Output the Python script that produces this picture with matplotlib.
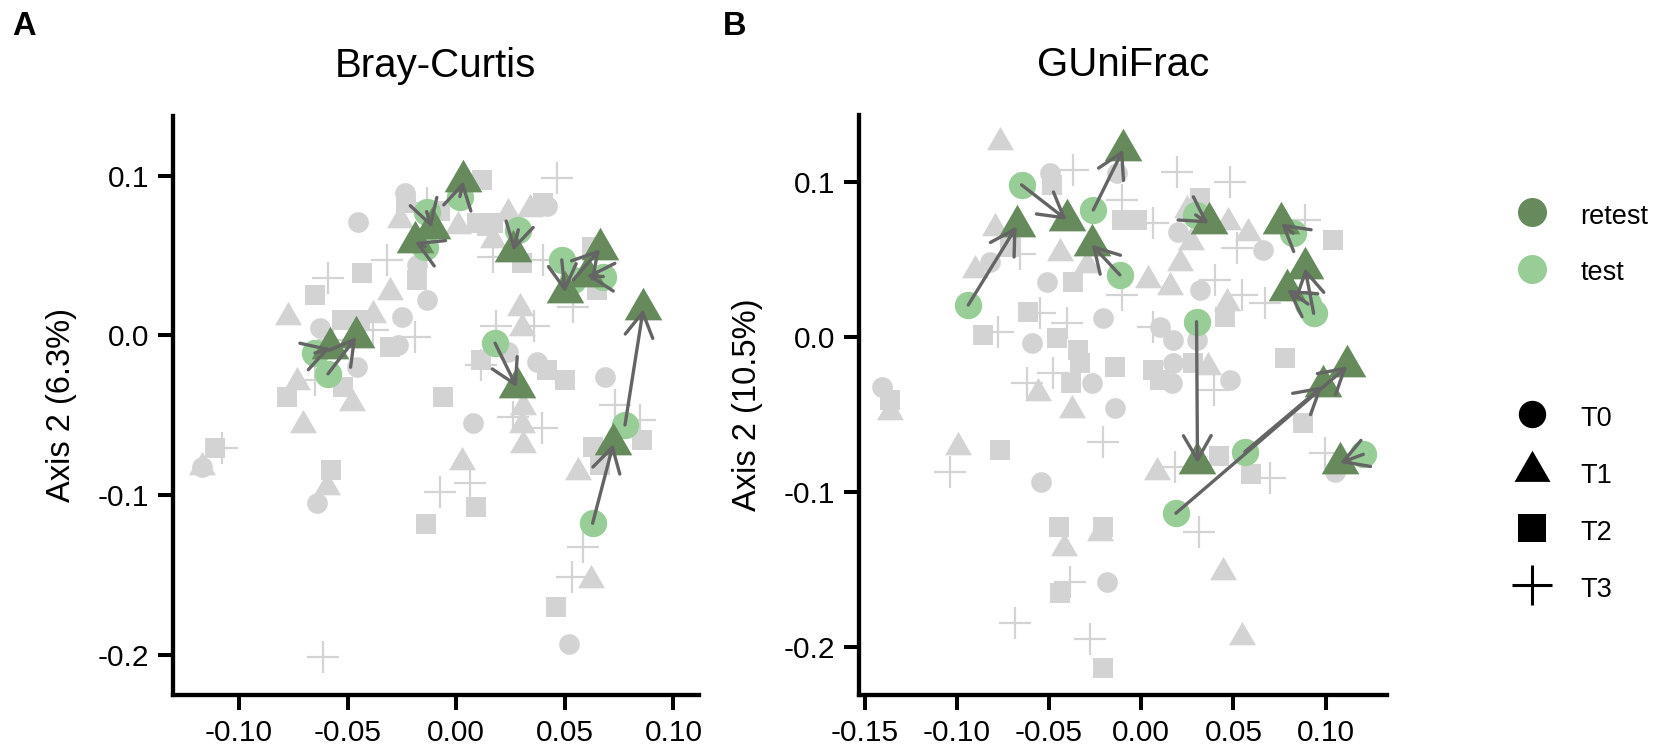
import matplotlib
matplotlib.use("Agg")
import matplotlib.pyplot as plt
from matplotlib.lines import Line2D

plt.rcParams['font.family'] = ['Liberation Sans', 'DejaVu Sans']
plt.rcParams['axes.unicode_minus'] = False

# ---------------- data ----------------
# Bray-Curtis, background samples (grey), by time point
bc_t0 = [(-0.0236, 0.0891), (-0.0451, 0.0714), (0.0417, 0.0808), (-0.0182, 0.0442),
         (-0.0136, 0.0223), (-0.0627, 0.0046), (-0.0251, 0.0118), (-0.0267, -0.006),
         (-0.0458, -0.0195), (0.024, -0.0101), (0.0371, -0.0163), (0.0685, -0.0261),
         (-0.1172, -0.0821), (-0.0642, -0.1051), (0.0079, -0.055), (0.0521, -0.1934)]
bc_t1 = [(-0.0258, 0.0724), (0.001, 0.0683), (0.024, 0.0766), (0.0171, 0.0599),
         (0.0339, 0.079), (-0.0305, 0.0275), (-0.0773, 0.0118), (-0.0382, 0.0129),
         (-0.0734, -0.0289), (-0.0481, -0.0424), (0.0294, 0.0171), (0.0302, 0.0046),
         (-0.0704, -0.056), (-0.1172, -0.0821), (-0.0596, -0.0947), (0.0025, -0.079),
         (0.0309, -0.0445), (0.0302, -0.056), (0.0309, -0.0685), (0.0562, -0.0853),
         (0.0619, -0.1531)]
bc_t2 = [(0.0117, 0.0975), (-0.0232, 0.0829), (-0.0075, 0.0777), (0.0094, 0.0704),
         (0.014, 0.0683), (0.0171, 0.0704), (0.0401, 0.0829), (0.0302, 0.0453),
         (0.0647, 0.0286), (0.0623, 0.0557), (-0.0182, 0.0348), (-0.0435, 0.039),
         (-0.065, 0.0254), (-0.0527, 0.0098), (-0.0443, 0.0098), (-0.0305, -0.007),
         (-0.078, -0.0383), (-0.052, -0.032), (-0.0059, -0.0383), (0.0113, -0.0153),
         (0.0417, -0.0216), (0.0501, -0.0278), (-0.111, -0.0706), (-0.0578, -0.0842),
         (0.0091, -0.1072), (-0.0139, -0.118), (0.0854, -0.0654), (0.0628, -0.0696),
         (0.0662, -0.0811), (0.0458, -0.1699)]
bc_t3 = [(0.0463, 0.0985), (-0.0136, 0.0829), (0.0401, 0.0474), (0.0171, 0.0494),
         (-0.032, 0.0474), (-0.0589, 0.0359), (0.0539, 0.0181), (-0.019, -0.0007),
         (-0.0382, 0.0035), (-0.0565, -0.0028), (-0.0649, -0.0278), (0.0356, 0.0057),
         (0.0181, 0.0057), (0.0113, -0.0182), (-0.108, -0.0706), (-0.0612, -0.2012),
         (-0.0075, -0.0978), (0.0064, -0.0925), (0.0263, -0.0508), (0.0394, -0.0581),
         (0.0731, -0.0435), (0.0846, -0.0529), (0.0585, -0.1323), (0.0532, -0.1511)]
# Bray-Curtis, test (T0) -> retest (T1) pairs
bc_test = [(-0.065, -0.011), (-0.059, -0.024), (0.0017, 0.087), (-0.0136, 0.0776),
           (-0.0144, 0.0557), (0.0286, 0.0662), (0.0486, 0.0474), (0.0677, 0.0369),
           (0.0539, 0.0348), (0.0179, -0.0048), (0.0777, -0.056), (0.0628, -0.1176)]
bc_retest = [(-0.058, -0.008), (-0.046, -0.001), (0.0033, 0.0966), (-0.0113, 0.0675),
             (-0.019, 0.0585), (0.0263, 0.053), (0.0501, 0.027), (0.0601, 0.0375),
             (0.0662, 0.054), (0.0279, -0.0325), (0.0861, 0.0165), (0.0723, -0.068)]

# GUniFrac, background samples (grey), by time point
gu_t0 = [(-0.0495, 0.1059), (-0.0133, 0.1059), (0.0201, 0.0682), (0.0662, 0.0564),
         (0.0318, 0.0306), (-0.0821, 0.0489), (-0.0513, 0.036), (-0.0206, 0.0123),
         (-0.0594, -0.0038), (-0.0269, -0.0296), (-0.1408, -0.0318), (0.0101, 0.0069),
         (0.0174, -0.0017), (0.03, -0.0017), (0.0174, -0.0167), (0.0481, -0.0275),
         (0.0165, -0.0296), (-0.0143, -0.0458), (-0.0544, -0.0931), (-0.0188, -0.1577),
         (0.105, -0.0867)]
gu_t1 = [(-0.0766, 0.1263), (0.0246, 0.0822), (0.027, 0.0618), (0.0472, 0.0747),
         (0.058, 0.0672), (0.0211, 0.0478), (0.0038, 0.037), (0.0156, 0.0327),
         (0.0463, 0.022), (-0.0793, 0.0704), (-0.0902, 0.0435), (-0.0441, 0.0543),
         (-0.0296, 0.0467), (0.0363, -0.0189), (-0.1363, -0.048), (-0.0559, -0.0361),
         (-0.0377, -0.0469), (-0.0992, -0.0705), (-0.0224, -0.1264), (-0.0418, -0.1361),
         (0.0083, -0.0867), (0.0445, -0.1512), (0.0548, -0.1932)]
gu_t2 = [(-0.0484, 0.0984), (-0.0106, 0.0758), (-0.0025, 0.0758), (0.0318, 0.0898),
         (0.0455, 0.0134), (-0.0712, 0.0585), (-0.0369, 0.036), (-0.0613, 0.0166),
         (-0.0857, 0.0015), (-0.0459, -0.0006), (-0.0342, -0.0081), (-0.0333, -0.0167),
         (-0.0143, -0.0189), (-0.0379, -0.0296), (-0.1363, -0.0404), (0.0065, -0.021),
         (0.0282, -0.0167), (0.0101, -0.0275), (0.0779, -0.0135), (0.1041, 0.0629),
         (-0.0766, -0.0727), (-0.0445, -0.1222), (-0.0206, -0.1222), (-0.0441, -0.1652),
         (-0.0206, -0.2136), (0.0423, -0.0765), (0.0593, -0.0882), (0.0879, -0.0554)]
gu_t3 = [(-0.0369, 0.108), (-0.0106, 0.0887), (0.0065, 0.0736), (0.0192, 0.107),
         (0.0481, 0.1005), (0.0517, 0.0575), (0.04, 0.037), (0.0544, 0.0274),
         (0.0671, 0.022), (-0.066, 0.054), (-0.0106, 0.0274), (-0.0549, 0.0155),
         (-0.0775, 0.0037), (-0.0405, 0.0091), (-0.0622, -0.0296), (-0.0477, -0.0232),
         (0.0065, 0.0069), (0.0397, -0.034), (-0.1037, -0.0867), (-0.0206, -0.0673),
         (-0.0387, -0.1577), (-0.0685, -0.1841), (-0.0278, -0.1949), (0.0183, -0.0834),
         (0.0698, -0.0909), (0.0315, -0.1254), (0.0888, 0.0758), (0.0996, -0.0748)]
gu_test = [(-0.0938, 0.0209), (-0.0649, 0.0984), (-0.026, 0.0822), (-0.0116, 0.0403),
           (0.0295, 0.079), (0.03, 0.0101), (0.0824, 0.0672), (0.0935, 0.0155),
           (0.0905, 0.0215), (0.0188, -0.1135), (0.0562, -0.0738), (0.1204, -0.0755)]
gu_retest = [(-0.0676, 0.0716), (-0.0405, 0.0759), (-0.0098, 0.1211), (-0.0269, 0.0598),
             (0.0365, 0.0735), (0.0305, -0.0811), (0.0758, 0.0735), (0.0888, 0.0447),
             (0.0792, 0.0307), (0.1117, -0.0187), (0.0983, -0.0316), (0.1078, -0.081)]

panels = [
    dict(title="Bray-Curtis", ylabel="Axis 2 (6.3%)", letter="A",
         t0=bc_t0, t1=bc_t1, t2=bc_t2, t3=bc_t3, test=bc_test, retest=bc_retest,
         xticks=[-0.10, -0.05, 0.00, 0.05, 0.10], xlim=(-0.1305, 0.1116),
         ylim=(-0.2252, 0.1375)),
    dict(title="GUniFrac", ylabel="Axis 2 (10.5%)", letter="B",
         t0=gu_t0, t1=gu_t1, t2=gu_t2, t3=gu_t3, test=gu_test, retest=gu_retest,
         xticks=[-0.15, -0.10, -0.05, 0.00, 0.05, 0.10], xlim=(-0.1531, 0.1332),
         ylim=(-0.2308, 0.1435)),
]
yticks = [-0.2, -0.1, 0.0, 0.1]

grey = "#d3d3d3"
col_test = "#98cd98"
col_retest = "#668a5c"
col_arrow = "#646464"
tri = [(0, 1), (-0.866, -0.5), (0.866, -0.5), (0, 1)]

fig = plt.figure(figsize=(16.54, 7.51), dpi=100)
rects = [[0.1044, 0.07457, 0.3180, 0.7710], [0.5193, 0.07457, 0.3192, 0.7723]]
letter_x = [0.0142, 0.4444]

for p, rect, lx in zip(panels, rects, letter_x):
    ax = fig.add_axes(rect)

    def xs(pts):
        return [q[0] for q in pts]

    def ys(pts):
        return [q[1] for q in pts]

    ax.scatter(xs(p["t0"]), ys(p["t0"]), s=222, marker="o", color=grey, lw=0, zorder=1)
    ax.scatter(xs(p["t1"]), ys(p["t1"]), s=504, marker=tri, color=grey, lw=0, zorder=1)
    ax.scatter(xs(p["t2"]), ys(p["t2"]), s=222, marker="s", color=grey, lw=0, zorder=1)
    ax.scatter(xs(p["t3"]), ys(p["t3"]), s=520, marker="+", color=grey, linewidths=1.6, zorder=1)

    ax.scatter(xs(p["test"]), ys(p["test"]), s=388, marker="o", color=col_test, lw=0, zorder=2)
    ax.scatter(xs(p["retest"]), ys(p["retest"]), s=980, marker=tri, color=col_retest, lw=0, zorder=3)

    for a, b in zip(p["test"], p["retest"]):
        ax.annotate("", xy=b, xytext=a, zorder=4,
                    arrowprops=dict(arrowstyle="->,head_length=1.73,head_width=1.0",
                                    color=col_arrow, lw=2.4, shrinkA=0, shrinkB=0,
                                    mutation_scale=10))

    ax.set_xlim(*p["xlim"])
    ax.set_ylim(*p["ylim"])
    ax.set_xticks(p["xticks"])
    ax.set_xticklabels(["%.2f" % v for v in p["xticks"]])
    ax.set_yticks(yticks)
    ax.set_yticklabels(["%.1f" % v for v in yticks])
    ax.tick_params(axis="both", direction="out", length=10.8, width=2.9,
                   color="black", labelsize=21.5, labelcolor="black")
    ax.tick_params(axis="x", pad=6.5)
    ax.tick_params(axis="y", pad=6)
    for side in ["top", "right"]:
        ax.spines[side].set_visible(False)
    for side in ["left", "bottom"]:
        ax.spines[side].set_linewidth(3.1)
        ax.spines[side].set_capstyle("projecting")

    ax.set_ylabel(p["ylabel"], fontsize=23.5)
    ax.yaxis.set_label_coords(-0.1825, 0.5)
    ax.set_title(p["title"], fontsize=29, y=1.068, pad=0)
    fig.text(lx, 0.9534, p["letter"], fontsize=23.5, fontweight="bold",
             ha="center", va="baseline")

# legends
colour_handles = [
    Line2D([], [], marker="o", linestyle="none", markersize=20.9, color=col_retest, markeredgewidth=0),
    Line2D([], [], marker="o", linestyle="none", markersize=20.9, color=col_test, markeredgewidth=0),
]
shape_handles = [
    Line2D([], [], marker="o", linestyle="none", markersize=19.7, color="black", markeredgewidth=0),
    Line2D([], [], marker=tri, linestyle="none", markersize=29.9, color="black", markeredgewidth=0),
    Line2D([], [], marker="s", linestyle="none", markersize=19.5, color="black", markeredgewidth=0),
    Line2D([], [], marker="+", linestyle="none", markersize=29.5, color="black", markeredgewidth=2.2),
]
leg_kw = dict(loc="upper left", frameon=False, borderpad=0, borderaxespad=0,
              handlelength=1.4, handleheight=1.2, handletextpad=1.1,
              labelspacing=1.03, fontsize=19.5)
fig.legend(colour_handles, ["retest", "test"], bbox_to_anchor=(0.9145, 0.733), **leg_kw)
fig.legend(shape_handles, ["T0", "T1", "T2", "T3"], bbox_to_anchor=(0.9145, 0.4635), **leg_kw)

fig.savefig("out.png", dpi=100)
